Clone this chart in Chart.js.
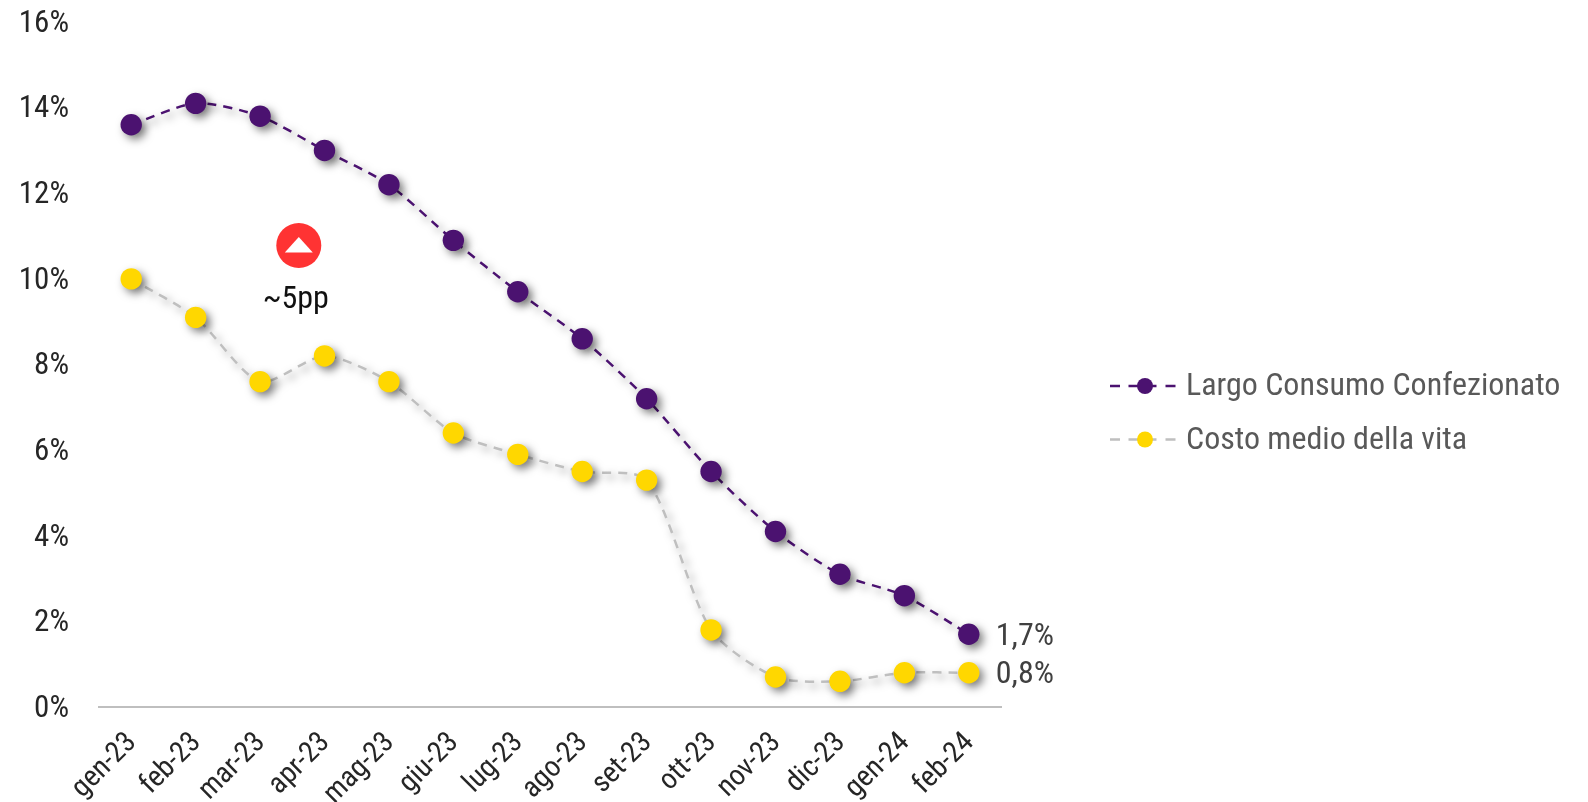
<!DOCTYPE html>
<html lang="it">
<head>
<meta charset="utf-8">
<title>Largo Consumo Confezionato</title>
<script src="https://cdn.jsdelivr.net/npm/chart.js@4"></script>
<style>
  html, body { margin: 0; padding: 0; background: #fff; }
  #wrap { width: 1588px; height: 802px; }
</style>
</head>
<body>
<div id="wrap"><canvas id="grafico" width="1588" height="802"></canvas></div>
<script>
const mesi = ['gen-23','feb-23','mar-23','apr-23','mag-23','giu-23','lug-23','ago-23','set-23','ott-23','nov-23','dic-23','gen-24','feb-24'];
const largoConsumo = [13.6,14.1,13.8,13.0,12.2,10.9,9.7,8.6,7.2,5.5,4.1,3.1,2.6,1.7];
const costoVita = [10.0,9.1,7.6,8.2,7.6,6.4,5.9,5.5,5.3,1.8,0.7,0.6,0.8,0.8];

const VIOLA = '#4b1270';
const GIALLO = '#ffd700';
const GRIGIO = '#bfbfbf';
const FONT = '"Roboto Condensed", Roboto, sans-serif';

// ombra morbida sotto linee e punti
const ombre = {
  id: 'ombre',
  beforeDatasetDraw(chart) {
    const c = chart.ctx;
    c.save();
    c.shadowColor = 'rgba(0,0,0,0.5)';
    c.shadowBlur = 8;
    c.shadowOffsetX = 4;
    c.shadowOffsetY = 4;
  },
  afterDatasetDraw(chart) { chart.ctx.restore(); }
};

function scrivi(c, testo, x, y, colore, align) {
  c.font = '400 32px ' + FONT;
  c.fillStyle = colore;
  c.textAlign = align || 'left';
  c.textBaseline = 'middle';
  c.fillText(testo, x, y);
}

// etichette finali, legenda e freccia
const extra = {
  id: 'extra',
  afterDraw(chart) {
    const c = chart.ctx, sx = chart.scales.x, sy = chart.scales.y;
    c.save();
    const ultimo = mesi.length - 1;
    const xFine = sx.getPixelForValue(ultimo) + 27;
    scrivi(c, '1,7%', xFine, sy.getPixelForValue(largoConsumo[ultimo]) + 3, '#404040');
    scrivi(c, '0,8%', xFine, sy.getPixelForValue(costoVita[ultimo]) + 2, '#404040');

    chart.data.datasets.forEach((ds, i) => {
      const y = 386 + i * 53.5;
      c.beginPath();
      c.strokeStyle = ds.borderColor;
      c.lineWidth = 2.5;
      c.setLineDash([10, 8.5, 28, 9, 10, 100]);
      c.moveTo(1110, y);
      c.lineTo(1176, y);
      c.stroke();
      c.setLineDash([]);
      c.beginPath();
      c.fillStyle = ds.pointBackgroundColor;
      c.arc(1145, y, 8, 0, Math.PI * 2);
      c.fill();
      scrivi(c, ds.label, 1186, y + 1, '#595959');
    });

    const cx = (sx.getPixelForValue(2) + sx.getPixelForValue(3)) / 2 + 6.5;
    const cy = sy.getPixelForValue(10.78);
    c.beginPath();
    c.fillStyle = '#ff3333';
    c.arc(cx, cy, 22.5, 0, Math.PI * 2);
    c.fill();
    c.beginPath();
    c.fillStyle = '#fff';
    c.moveTo(cx, cy - 8.5);
    c.lineTo(cx + 14, cy + 7);
    c.lineTo(cx - 14, cy + 7);
    c.closePath();
    c.fill();
    scrivi(c, '~5pp', cx - 3, cy + 55, '#111', 'center');
    c.restore();
  }
};

new Chart(document.getElementById('grafico'), {
  type: 'line',
  data: {
    labels: mesi,
    datasets: [
      { label: 'Largo Consumo Confezionato', data: largoConsumo, borderColor: VIOLA, pointBackgroundColor: VIOLA },
      { label: 'Costo medio della vita', data: costoVita, borderColor: GRIGIO, pointBackgroundColor: GIALLO }
    ].map(d => Object.assign(d, {
      borderWidth: 2.5,
      borderDash: [9, 7],
      tension: 0.25,
      pointRadius: 10.7,
      pointBorderWidth: 0,
      pointHoverRadius: 10.7
    }))
  },
  plugins: [ombre, extra],
  options: {
    responsive: false,
    animation: false,
    layout: { padding: { top: 22, right: 587, bottom: 0, left: 0 } },
    plugins: { legend: { display: false }, tooltip: { enabled: false } },
    scales: {
      x: {
        offset: true,
        afterFit: a => { a.height = 95; a.paddingLeft = 0; a.paddingRight = 0; },
        grid: { display: false },
        border: { color: GRIGIO, width: 2 },
        ticks: {
          color: '#262626', padding: 11, labelOffset: 1, minRotation: 45, maxRotation: 45, autoSkip: false,
          font: { family: FONT, size: 29 }
        }
      },
      y: {
        min: 0, max: 16,
        afterFit: a => { a.width = 99; a.paddingTop = 0; a.paddingBottom = 0; },
        grid: { display: false, drawTicks: false },
        border: { display: false },
        ticks: {
          stepSize: 2, color: '#262626', padding: 30, labelOffset: 2,
          callback: v => v + '%',
          font: { family: FONT, size: 31 }
        }
      }
    }
  }
});
</script>
</body>
</html>
